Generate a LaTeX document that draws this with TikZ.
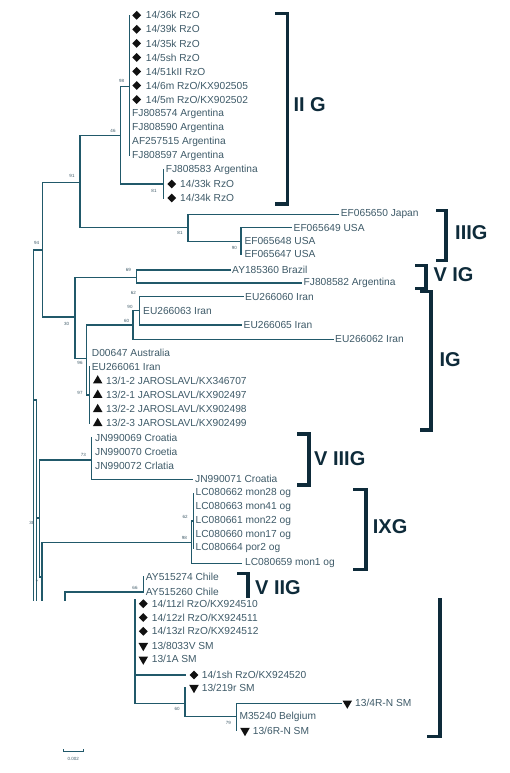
\documentclass[tikz,border=0pt]{standalone}
\usepackage{fontspec}
\setmainfont{Liberation Sans}
\usetikzlibrary{shapes.geometric}
\definecolor{tree}{HTML}{21596A}
\definecolor{txt}{HTML}{3E5A68}
\definecolor{brk}{HTML}{0E2B3A}
\definecolor{mk}{HTML}{111111}
\tikzset{
 br/.style={draw=tree, line width=1.3pt, line cap=rect},
 brkt/.style={draw=brk, line width=3.2pt, line join=miter},
 leaf/.style={anchor=west, inner sep=0pt, text=txt, font=\fontsize{10.2}{12}\selectfont},
 bs/.style={inner sep=0pt, text=txt, font=\fontsize{4.5}{5}\selectfont},
 grp/.style={anchor=west, inner sep=0pt, text=brk, font=\fontsize{20}{24}\selectfont\bfseries},
 dmk/.style={diamond, fill=mk, inner sep=0pt, minimum width=9pt, minimum height=9pt},
 tup/.style={regular polygon, regular polygon sides=3, fill=mk, inner sep=0pt, minimum size=11pt},
 tdn/.style={regular polygon, regular polygon sides=3, shape border rotate=180, fill=mk, inner sep=0pt, minimum size=11pt},
}
\begin{document}
\begin{tikzpicture}[x=1pt,y=-1pt]
\useasboundingbox (0,0) rectangle (509,773);
% ---------- IIG cluster ----------
\draw[br] (129.3,15.3) -- (129.3,155.7);
\draw[br] (120.7,86.5) -- (129.3,86.5);
\draw[br] (120.7,86.5) -- (120.7,184);
\draw[br] (120.7,184) -- (163.3,184);
\draw[br] (163.3,170) -- (163.3,198);
\draw[br] (80,135.7) -- (120.7,135.7);
\foreach \i/\t in {1/14\slash 36k RzO,2/14\slash 39k RzO,3/14\slash 35k RzO,4/14\slash 5sh RzO,5/14\slash 51kII RzO,6/14\slash 6m RzO\slash KX902505,7/14\slash 5m RzO\slash KX902502}{
  \node[dmk] (d\i) at (136.7,{15.3+14.04*(\i-1)}) {};
  \node[leaf] (a\i) at (145.7,{15.3+14.04*(\i-1)}) {\t};
}
\node[leaf] (a8) at (132,113.6) {FJ808574 Argentina};
\node[leaf] (a9) at (132,127.6) {FJ808590 Argentina};
\node[leaf] (a10) at (132,141.7) {AF257515 Argentina};
\node[leaf] (a11) at (132,155.7) {FJ808597 Argentina};
\node[leaf] (a12) at (165.7,170) {FJ808583 Argentina};
\node[dmk] (d13) at (171.7,184) {};
\node[leaf] (a13) at (180,184) {14/33k RzO};
\node[dmk] (d14) at (171.7,198) {};
\node[leaf] (a14) at (180,198) {14/34k RzO};
% ---------- upper backbone ----------
\draw[br] (80,135.7) -- (80,227.7);
\draw[br] (42.7,182.3) -- (80,182.3);
\draw[br] (80,227.7) -- (188,227.7);
\draw[br] (42.7,182.3) -- (42.7,317);
\draw[br] (33.3,250) -- (42.7,250);
\draw[br] (42.7,317) -- (75,317);
% ---------- IIIG ----------
\draw[br] (188,214.3) -- (188,241.5);
\draw[br] (188,214.3) -- (338.3,214.3);
\draw[br] (188,241.5) -- (241,241.5);
\draw[br] (241,227.7) -- (241,254);
\draw[br] (241,227.7) -- (291.7,227.7);
\node[leaf] (b1) at (340.7,214.3) {EF065650 Japan};
\node[leaf] (b2) at (293.5,227.7) {EF065649 USA};
\node[leaf] (b3) at (244.3,240.7) {EF065648 USA};
\node[leaf] (b4) at (244.3,254) {EF065647 USA};
% ---------- VIG ----------
\draw[br] (75,277.3) -- (75,358.3);
\draw[br] (75,277.3) -- (136.7,277.3);
\draw[br] (136.7,270) -- (136.7,283);
\draw[br] (136.7,270) -- (230,270);
\draw[br] (136.7,283) -- (301.7,283);
\node[leaf] (c1) at (232,270) {AY185360 Brazil};
\node[leaf] (c2) at (303.5,283) {FJ808582 Argentina};
% ---------- IG ----------
\draw[br] (75,358.3) -- (86.7,358.3);
\draw[br] (86.7,325) -- (86.7,395);
\draw[br] (86.7,325) -- (133,325);
\draw[br] (133,310.7) -- (133,339.3);
\draw[br] (133,339.3) -- (333.3,339.3);
\draw[br] (133,310.7) -- (139.5,310.7);
\draw[br] (139.5,296.7) -- (139.5,325);
\draw[br] (139.5,296.7) -- (243,296.7);
\draw[br] (139.5,325) -- (241.7,325);
\node[leaf] (e1) at (245,296.7) {EU266060 Iran};
\node[leaf] (e2) at (143,310.7) {EU266063 Iran};
\node[leaf] (e3) at (243.5,325) {EU266065 Iran};
\node[leaf] (e4) at (335,339.3) {EU266062 Iran};
\node[leaf] (e5) at (91.7,352.7) {D00647 Australia};
\node[leaf] (e6) at (91.7,366.7) {EU266061 Iran};
\draw[br] (86.7,395) -- (89.3,395);
\draw[br] (89.3,366.7) -- (89.3,423.3);
\foreach \i/\y/\t in {1/380.7/13\slash 1-2 JAROSLAVL\slash KX346707,2/395/13\slash 2-1 JAROSLAVL\slash KX902497,3/409.3/13\slash 2-2 JAROSLAVL\slash KX902498,4/423.3/13\slash 2-3 JAROSLAVL\slash KX902499}{
  \node[tup] (j\i) at (97.7,\y) {};
  \node[leaf] (k\i) at (106,\y) {\t};
}
% ---------- lower backbone ----------
\draw[br] (33.3,250) -- (33.3,600);
\draw[br] (36.5,400) -- (36.5,600);
\draw[br] (33.3,400) -- (36.5,400);
\draw[br] (36.5,518) -- (39.3,518);
\draw[br] (39.3,460) -- (39.3,577);
\draw[br] (39.3,577) -- (42,577);
\draw[br] (42,542.5) -- (42,600);
% ---------- VIIIG ----------
\draw[br] (39.3,460) -- (91.7,460);
\draw[br] (91.7,437.7) -- (91.7,479.3);
\draw[br] (91.7,479.3) -- (192.7,479.3);
\node[leaf] (f1) at (95,437.7) {JN990069 Croatia};
\node[leaf] (f2) at (95,451.7) {JN990070 Croetia};
\node[leaf] (f3) at (95,466) {JN990072 Crlatia};
\node[leaf] (f4) at (195,479.3) {JN990071 Croatia};
% ---------- IXG ----------
\draw[br] (42,542.5) -- (191.5,542.5);
\draw[br] (191.5,521) -- (191.5,563.3);
\draw[br] (191.5,521) -- (193.3,521);
\draw[br] (193.3,493.3) -- (193.3,548.3);
\draw[br] (191.5,563.3) -- (241.7,563.3);
\node[leaf] (g1) at (195.5,493.3) {LC080662 mon28 og};
\node[leaf] (g2) at (195.5,507.3) {LC080663 mon41 og};
\node[leaf] (g3) at (195.5,521) {LC080661 mon22 og};
\node[leaf] (g4) at (195.5,535) {LC080660 mon17 og};
\node[leaf] (g5) at (195.5,548.3) {LC080664 por2 og};
\node[leaf] (g6) at (245,563.3) {LC080659 mon1 og};
% ---------- VIIG ----------
\draw[br] (65,592) -- (65,600);
\draw[br] (65,592) -- (143.3,592);
\draw[br] (143.3,576.7) -- (143.3,592);
\node[leaf] (h1) at (145.7,576.7) {AY515274 Chile};
\node[leaf] (h2) at (145.7,592) {AY515260 Chile};
% ---------- bottom cluster ----------
\draw[br] (135,600) -- (135,703.3);
\foreach \i/\y/\t in {1/603.7/14\slash 11zl RzO\slash KX924510,2/617.5/14\slash 12zl RzO\slash KX924511,3/631.3/14\slash 13zl RzO\slash KX924512}{
  \node[dmk] (p\i) at (143.3,\y) {};
  \node[leaf] (q\i) at (151.7,\y) {\t};
}
\node[tdn] (p4) at (143.3,645.7) {};
\node[leaf] (q4) at (151.7,645.7) {13/8033V SM};
\node[tdn] (p5) at (143.3,659.3) {};
\node[leaf] (q5) at (151.7,659.3) {13/1A SM};
\draw[br] (135,675) -- (185,675);
\node[dmk] (p6) at (194,675) {};
\node[leaf] (q6) at (201.7,675) {14/1sh RzO/KX924520};
\draw[br] (135,703.3) -- (185,703.3);
\draw[br] (185,688) -- (185,716.7);
\node[tdn] (p7) at (194,687.7) {};
\node[leaf] (q7) at (201.7,687.7) {13/219r SM};
\draw[br] (185,716.7) -- (236.7,716.7);
\draw[br] (236.7,703.3) -- (236.7,730.7);
\draw[br] (236.7,703.3) -- (341.7,703.3);
\node[tdn] (p8) at (347.3,703.3) {};
\node[leaf] (q8) at (355,703.3) {13/4R-N SM};
\node[leaf] (q9) at (239.3,716.7) {M35240 Belgium};
\node[tdn] (p10) at (245,730.7) {};
\node[leaf] (q10) at (252.7,730.7) {13/6R-N SM};
% ---------- support values ----------
\node[bs] (s1) at (121.7,81) {98};
\node[bs] (s2) at (113,131) {46};
\node[bs] (s3) at (154,191) {81};
\node[bs] (s4) at (72,176) {91};
\node[bs] (s5) at (36.7,243) {94};
\node[bs] (s6) at (180,233.3) {81};
\node[bs] (s7) at (234.3,247.7) {90};
\node[bs] (s8) at (66.7,324) {30};
\node[bs] (s9) at (128.3,270) {69};
\node[bs] (s10) at (133.3,293) {62};
\node[bs] (s11) at (130,306.5) {90};
\node[bs] (s12) at (126.7,321) {60};
\node[bs] (s13) at (80,363.3) {96};
\node[bs] (s14) at (80,393.3) {97};
\node[bs] (s15) at (83.3,455) {73};
\node[bs] (s16) at (32,523.3) {38};
\node[bs] (s17) at (37,582) {7};
\node[bs] (s18) at (185,516.7) {62};
\node[bs] (s19) at (184.3,537.7) {98};
\node[bs] (s20) at (135,588.3) {66};
\node[bs] (s21) at (177,708.5) {60};
\node[bs] (s22) at (228.3,723.3) {79};
% ---------- scale bar ----------
\draw[br, line width=0.8pt] (63.3,749.5) -- (63.3,751.7) -- (83.3,751.7) -- (83.3,749.5);
\node[bs] (sc) at (73.3,758.5) {0.002};
% ---------- brackets ----------
\draw[brkt] (275,13.3) -- (287.7,13.3) -- (287.7,204) -- (275,204);
\node[grp] (G2) at (293.3,105) {II G};
\draw[brkt] (436,210.7) -- (446,210.7) -- (446,260.7) -- (436,260.7);
\node[grp] (G3) at (455,232.3) {IIIG};
\draw[brkt] (415,265.7) -- (426,265.7) -- (426,288.3) -- (415,288.3);
\node[grp] (G6) at (433.3,275) {V IG};
\draw[brkt] (420,291.7) -- (431,291.7) -- (431,430) -- (420,430);
\node[grp] (G1) at (439.3,360) {IG};
\draw[brkt] (297,434) -- (309,434) -- (309,485) -- (297,485);
\node[grp] (G8) at (314,458.3) {V IIIG};
\draw[brkt] (353,489.3) -- (366,489.3) -- (366,569.3) -- (353,569.3);
\node[grp] (G9) at (372.7,526.7) {IXG};
\draw[brkt] (237,573.3) -- (248,573.3) -- (248,598);
\node[grp] (G7) at (255,588) {V IIG};
\draw[brkt] (440,598) -- (440,736.7) -- (427,736.7);
\end{tikzpicture}
\end{document}
